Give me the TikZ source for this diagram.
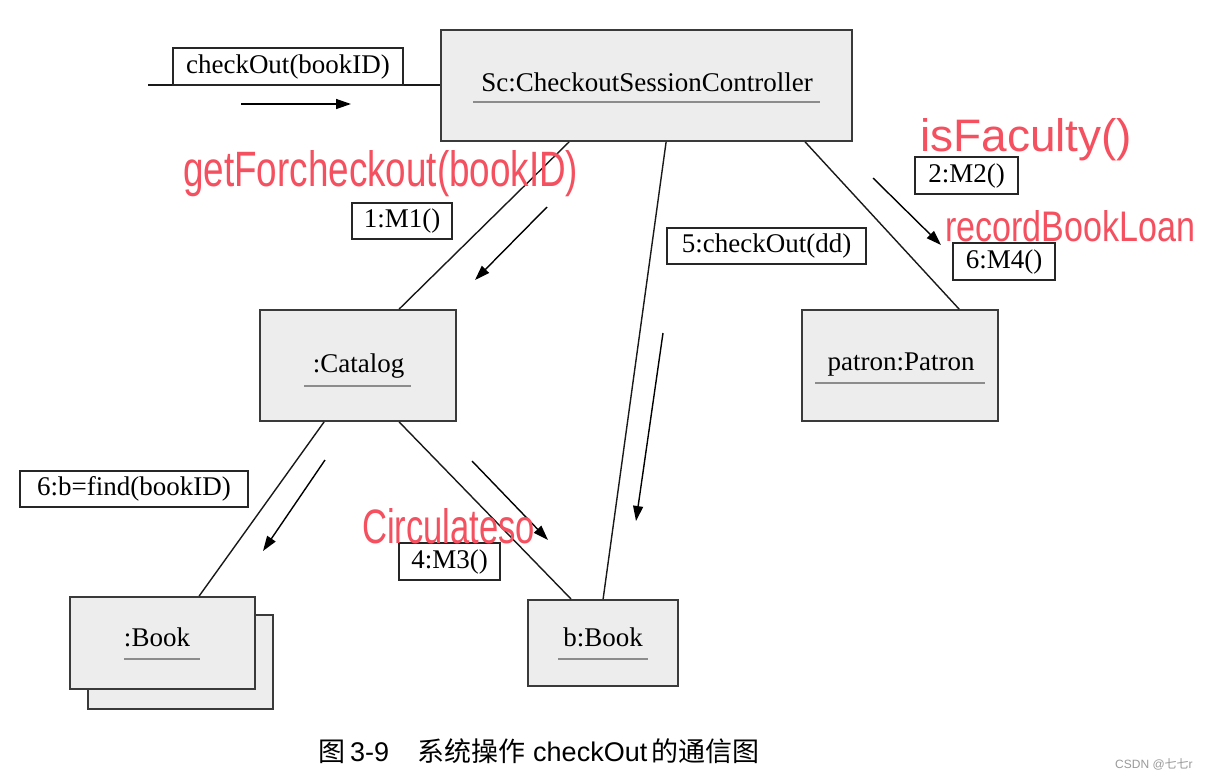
\documentclass[tikz,border=0pt]{standalone}
\usepackage{fontspec}
\usepackage{graphicx}
\usetikzlibrary{arrows.meta,calc}
\setmainfont{Liberation Serif}
\newfontfamily\cjk{Noto Sans CJK SC}
\newfontfamily\lsans{Liberation Sans}
\newfontfamily\hand{Liberation Sans}
\definecolor{boxfill}{HTML}{EDEDED}
\definecolor{boxline}{HTML}{3A3A3A}
\definecolor{ulgray}{HTML}{8C8C8C}
\definecolor{handred}{HTML}{F4505F}
\definecolor{wmgray}{HTML}{9A9A9A}
\tikzset{
  obj/.style={draw=boxline, line width=1.8pt, fill=boxfill, inner sep=0pt},
  objtext/.style={font=\fontsize{27}{30}\selectfont, inner sep=0pt, anchor=base},
  ul/.style={draw=ulgray, line width=1.8pt},
  lbl/.style={draw=black!85, line width=1.3pt, fill=white, inner sep=0pt, font=\fontsize{27}{30}\selectfont, text height=19pt, text depth=6pt},
  link/.style={draw=black!90, line width=1.4pt},
  msg/.style={draw=black, line width=1.4pt, -{Triangle[length=15pt,width=10pt]}},
  hw/.style={text=handred, inner sep=0pt, anchor=base west},
}
\begin{document}
\begin{tikzpicture}[x=1pt,y=-1pt]
\useasboundingbox[fill=white] (0,0) rectangle (1207,780);

% object boxes
\node[obj, minimum width=411pt, minimum height=111pt] (ctrl) at (646.5,85.5) {};
\node[obj, minimum width=196pt, minimum height=111pt] (cat) at (358,365.5) {};
\node[obj, minimum width=196pt, minimum height=111pt] (pat) at (900,365.5) {};
\node[obj, minimum width=185pt, minimum height=94pt] (bookb) at (180.5,662) {};
\node[obj, minimum width=185pt, minimum height=92pt] (book) at (162.5,643) {};
\node[obj, minimum width=150pt, minimum height=86pt] (bbook) at (603,643) {};

% links
\draw[link] ($(ctrl.south west)+(129,0)$) -- ($(cat.north west)+(140,0)$);
\draw[link] ($(ctrl.south west)+(226,0)$) -- ($(bbook.north west)+(76,0)$);
\draw[link] ($(ctrl.south west)+(365,0)$) -- ($(pat.north west)+(158,0)$);
\draw[link] ($(cat.south west)+(65,0)$) -- ($(book.north west)+(130,0)$);
\draw[link] ($(cat.south west)+(140,0)$) -- ($(bbook.north west)+(44,0)$);

% incoming message line
\coordinate (inl) at (148,85);
\draw[link] (inl) -- (inl -| ctrl.west);

% object texts and underlines
\node[objtext] (ctrlt) at (647,91) {Sc:CheckoutSessionController};
\draw[ul] (473,102) -- (820,102);
\node[objtext] (catt) at (358.5,372) {:Catalog};
\draw[ul] (304,386) -- (411,386);
\node[objtext] (patt) at (901,370) {patron:Patron};
\draw[ul] (815,383) -- (985,383);
\node[objtext] (bookt) at (157,646.5) {:Book};
\draw[ul] (124,659) -- (200,659);
\node[objtext] (bbookt) at (603,646.5) {b:Book};
\draw[ul] (558,659) -- (648,659);

% message labels
\node[lbl, minimum width=230pt, minimum height=37pt] (lin) at (288,66.5) {checkOut(bookID)};
\node[lbl, minimum width=100pt, minimum height=36pt] (l1) at (402,221) {1:M1()};
\node[lbl, minimum width=199pt, minimum height=36pt] (l5) at (766.5,246) {5:checkOut(dd)};
\node[lbl, minimum width=103pt, minimum height=37pt] (l2) at (966.5,175.5) {2:M2()};
\node[lbl, minimum width=102pt, minimum height=37pt] (l4) at (1004,261.5) {6:M4()};
\node[lbl, minimum width=228pt, minimum height=36pt] (l6) at (134,489) {6:b=find(bookID)};
\node[lbl, minimum width=101pt, minimum height=37pt] (l3) at (449.5,561.5) {4:M3()};

% message arrows
\coordinate (a0s) at (241,104); \coordinate (a0e) at (351,104);
\draw[msg] (a0s) -- (a0e);
\coordinate (a1s) at (547,207); \coordinate (a1e) at (475,280);
\draw[msg] (a1s) -- (a1e);
\coordinate (a5s) at (663,333); \coordinate (a5e) at (636,521);
\draw[msg] (a5s) -- (a5e);
\coordinate (a2s) at (873,178); \coordinate (a2e) at (941,245);
\draw[msg] (a2s) -- (a2e);
\coordinate (a6s) at (325,460); \coordinate (a6e) at (263,551);
\draw[msg] (a6s) -- (a6e);
\coordinate (a3s) at (472,461); \coordinate (a3e) at (548,540);
\draw[msg] (a3s) -- (a3e);

% handwritten annotations
\node[hw] (hw1) at (183,186) {\resizebox{395pt}{36pt}{\hand getForcheckout(bookID)}};
\node[hw] (hw2) at (920,151) {\resizebox{212pt}{33pt}{\hand isFaculty()}};
\node[hw] (hw3) at (945,241) {\resizebox{250pt}{31pt}{\hand recordBookLoan}};
\node[hw] (hw4) at (362,543) {\resizebox{173pt}{35pt}{\hand Circulateso}};

% caption and watermark
\node[anchor=base west, inner sep=0pt, font=\fontsize{27}{30}\selectfont] (cap) at (318,761)
  {{\cjk 图}\hspace{5pt}{\lsans 3-9}\hspace{28pt}{\cjk 系统操作}\hspace{8pt}{\lsans checkOut}\hspace{4pt}{\cjk 的通信图}};
\node[anchor=base west, inner sep=0pt, text=wmgray, font=\fontsize{12}{14}\selectfont] (wm) at (1115,768)
  {{\lsans CSDN @}{\cjk 七七}{\lsans r}};
\end{tikzpicture}
\end{document}
